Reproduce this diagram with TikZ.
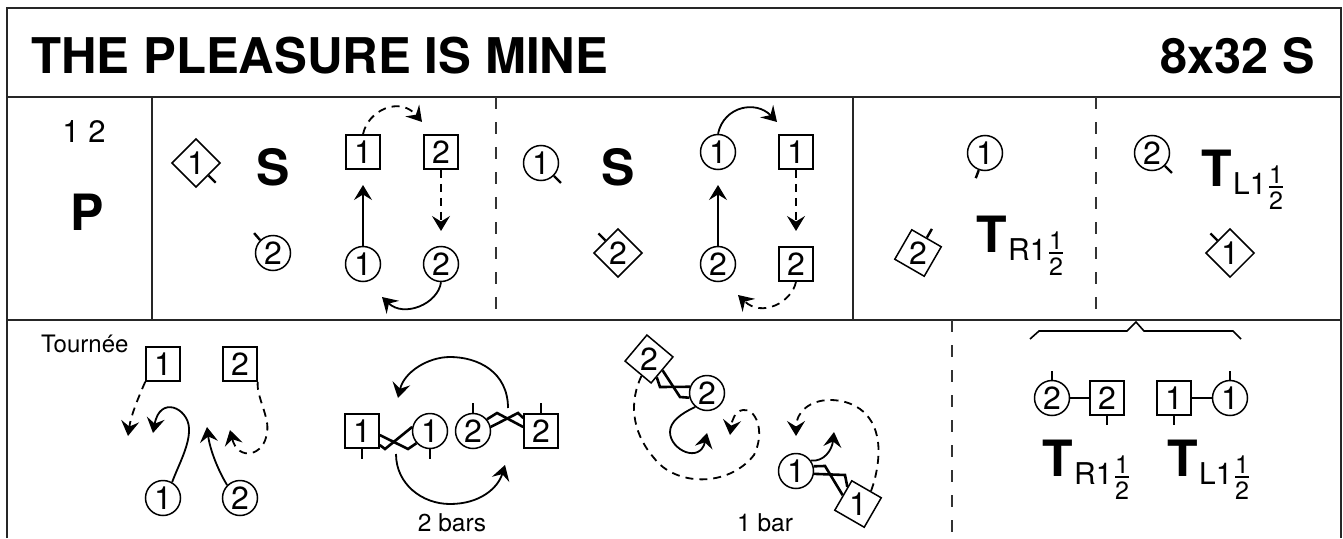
\documentclass[tikz,border=0pt]{standalone}
\usepackage{fontspec}
\usepackage{graphicx}
\setmainfont{TeX Gyre Heros}
\usetikzlibrary{arrows.meta}
\newcommand\fs[1]{\fontsize{#1}{#1}\selectfont}
\tikzset{
  x=1pt,y=-1pt,
  frameline/.style={line width=1.8pt,draw=black!85},
  divdash/.style={line width=1.8pt,draw=black!80,dash pattern=on 12pt off 13pt},
  dancer/.style={draw,line width=1.5pt,inner sep=0pt,font=\fs{32}},
  cn/.style={dancer,circle,minimum size=35pt},
  sq/.style={dancer,rectangle,minimum size=34pt},
  tick/.style={line width=2.4pt},
  arr/.style={line width=1.8pt,-{Stealth[length=15pt,width=18pt,inset=5.5pt]}},
  arrd/.style={arr,dash pattern=on 8pt off 6pt},
  hand/.style={line width=2.6pt,miter limit=4},
  big/.style={inner sep=0pt,anchor=base west,font=\fs{50}\bfseries},
  small/.style={inner sep=0pt,anchor=base,font=\fs{24.5}},
  subs/.style={inner sep=0pt,anchor=base west,font=\fs{30}},
  frac/.style={inner sep=0pt,anchor=base,font=\fs{25}},
}
% turn label: name, x of T, baseline, subscript, x offset of the fraction
\newcommand\turnlab[5]{%
  \node[big] (#1t) at (#2,#3) {T};
  \node[subs] (#1s) at (#2+32,#3+8) {#4};
  \node[frac] (#1n) at (#2+#5,#3-3) {1};
  \node[frac] (#1d) at (#2+#5,#3+23) {2};
  \draw[line width=1.5pt] (#1n.south)++(-7,4) coordinate (#1a) -- ++(14,0) coordinate (#1b);
}
\begin{document}
\begin{tikzpicture}
\useasboundingbox (0,0) rectangle (1343,538);
% frame
\draw[frameline] (7,538) -- (7,8) -- (1341,8) -- (1341,538);
\draw[frameline] (7,97) -- (1341,97);
\draw[frameline] (7,320) -- (1341,320);
\draw[frameline] (152,97) -- (152,320);
\draw[frameline] (853,97) -- (853,320);
\draw[divdash] (496,97) -- (496,320);
\draw[divdash] (1096,97) -- (1096,320);
\draw[divdash] (952,320) -- (952,538);
% title
\node[inner sep=0pt,anchor=base west,font=\fs{49.2}\bfseries] (title) at (31,73) {THE PLEASURE IS MINE};
\node[inner sep=0pt,anchor=base east,font=\fs{48.6}\bfseries] (form) at (1315,73) {8x32 S};
% left column
\node[inner sep=0pt,anchor=base,font=\fs{31}] (top) at (84,142) {1\hspace{9pt}2};
\node[big] (p) at (70,230) {P};
% panel 1
\node[sq,rotate=45] (a1) at (196,163) {\rotatebox[origin=c]{-45}{1}};
\draw[tick] (a1.south) -- ++(45:10);
\node[big,anchor=center] (s1) at (273,167) {S};
\node[cn] (a2) at (273,253) {2};
\draw[tick] (a2.135) -- ++(-6,-7);
\node[sq] (b1) at (363,152) {1};
\node[sq] (b2) at (441,152) {2};
\node[cn] (c1) at (363,264) {1};
\node[cn] (c2) at (441,264) {2};
\coordinate (e1) at (363,185);
\coordinate (e2) at (441,231);
\coordinate (e3) at (422,122);
\coordinate (e4) at (382,297);
\draw[arr] (c1.north) -- (e1);
\draw[arrd] (b2.south) -- (e2);
\draw[arrd] (b1.north) .. controls (368,110) and (400,96) .. (e3);
\draw[arr] (c2.south) .. controls (438,304) and (404,318) .. (e4);
% panel 2
\node[cn] (f1) at (541,163) {1};
\draw[tick] (f1.-45) -- ++(7,7);
\node[big,anchor=center] (s2) at (618,167) {S};
\node[sq,rotate=45] (f2) at (618,253) {\rotatebox[origin=c]{-45}{2}};
\draw[tick] (f2.north) -- ++(225:10);
\node[cn] (g1) at (718,152) {1};
\node[sq] (h1) at (796,152) {1};
\node[cn] (g2) at (718,264) {2};
\node[sq] (h2) at (796,264) {2};
\coordinate (e5) at (718,185);
\coordinate (e6) at (796,231);
\coordinate (e7) at (777,122);
\coordinate (e8) at (738,295);
\draw[arr] (g2.north) -- (e5);
\draw[arrd] (h1.south) -- (e6);
\draw[arr] (g1.north) .. controls (724,106) and (756,100) .. (e7);
\draw[arrd] (h2.south) .. controls (792,302) and (762,318) .. (e8);
% panel 3
\node[cn] (k1) at (985,153) {1};
\draw[tick] (k1.-110) -- ++(-3,8);
\node[sq,rotate=-30] (k2) at (918,253) {\rotatebox[origin=c]{30}{2}};
\draw[tick] (k2.north) -- ++(5,-8.7);
\turnlab{tr}{976}{252}{R1}{80}
% panel 4
\node[cn] (m1) at (1152,153) {2};
\draw[tick] (m1.-45) -- ++(7,7);
\turnlab{tl}{1201}{186}{L1}{75}
\node[sq,rotate=45] (m2) at (1230,253) {\rotatebox[origin=c]{-45}{1}};
\draw[tick] (m2.north) -- ++(225:10);
% tournee
\node[inner sep=0pt,anchor=base west,font=\fs{24}] (tn) at (41,352) {Tournée};
\node[sq] (n1) at (163,364) {1};
\node[sq] (n2) at (240,364) {2};
\node[cn] (o1) at (163,498) {1};
\node[cn] (o2) at (240,498) {2};
\coordinate (e9) at (128,436);
\coordinate (e10) at (153,433);
\coordinate (e11) at (207,427);
\coordinate (e12) at (230,430);
\draw[arrd] (n1.south west) .. controls (139,396) and (131,415) .. (e9);
\draw[arr] (o1.60) .. controls (178,466) and (190,445) .. (189,428) .. controls (188,408) and (160,395) .. (e10);
\draw[arr] (o2.north west) .. controls (218,470) and (210,450) .. (e11);
\draw[arrd] (n2.-45) .. controls (256,396) and (270,418) .. (267,432) .. controls (265,456) and (238,462) .. (e12);
% 2 bars
\node[sq] (p1) at (362,431) {1};
\node[cn] (q1) at (430,431) {1};
\node[cn] (q2) at (473,431) {2};
\node[sq] (p2) at (541,431) {2};
\draw[tick] (p1.south) -- ++(0,10);
\draw[tick] (q1.south) -- ++(0,10);
\draw[tick] (q2.north) -- ++(0,-10);
\draw[tick] (p2.north) -- ++(0,-10);
\draw[hand] (p1.east)++(0,4) -- (408,449) -- (q1.222);
\draw[hand] (p1.east)++(0,14) -- (385,449) -- (q1.167);
\draw[hand] (q2.40) -- (497,413) -- ([yshift=4pt]p2.west);
\draw[hand] (q2.13) -- (518,413) -- ([yshift=13pt]p2.west);
\coordinate (r1) at (508,408);
\coordinate (r2) at (398,398);
\coordinate (r3) at (396,454);
\coordinate (r4) at (505,465);
\draw[arr] (r1) .. controls (508,372) and (478,357) .. (450,357) .. controls (428,357) and (404,372) .. (r2);
\draw[arr] (r3) .. controls (396,484) and (422,504) .. (450,504) .. controls (480,504) and (498,488) .. (r4);
\node[small] (b2l) at (452,531) {2 bars};
% 1 bar
\node[sq,rotate=-40] (u2) at (649,359) {\rotatebox[origin=c]{40}{2}};
\node[cn] (v2) at (707,393) {2};
\draw[hand] (u2.east) -- (680,397) -- (v2.195);
\draw[hand] (u2.-27) -- (660,387) -- (v2.160);
\coordinate (w1) at (707,433);
\coordinate (w2) at (730,435);
\draw[arr] (v2.-130) .. controls (680,414) and (670,422) .. (670,432) .. controls (670,450) and (700,464) .. (w1);
\draw[arrd] (u2.-74) .. controls (630,400) and (630,430) .. (654,458) .. controls (675,486) and (728,488) .. (754,455) .. controls (766,430) and (755,408) .. (743,410) .. controls (735,411) and (732,420) .. (w2);
\node[cn] (v1) at (796,471) {1};
\node[sq,rotate=-30] (u1) at (858,504) {\rotatebox[origin=c]{30}{1}};
\draw[hand] (v1.15) -- (825,466) -- (u1.west);
\draw[hand] (v1.-9) -- (845,475) -- (u1.152);
\coordinate (w3) at (834,432);
\coordinate (w4) at (796,436);
\draw[arr] (v1.35) .. controls (824,462) and (832,450) .. (w3);
\draw[arrd] (u1.75) .. controls (876,478) and (880,458) .. (878,442) .. controls (874,410) and (850,400) .. (830,400) .. controls (810,400) and (796,412) .. (w4);
\node[small] (b1l) at (765,531) {1 bar};
% brace
\coordinate (br1) at (1030,339);
\coordinate (br2) at (1136,322);
\coordinate (br3) at (1241,339);
\draw[line width=1.6pt] (br1) -- (1039,331) -- (1127,331) -- (br2) -- (1144,331) -- (1233,331) -- (br3);
% holds
\node[cn] (x1) at (1052,398) {2};
\node[sq] (y1) at (1107,398) {2};
\node[sq] (y2) at (1174,398) {1};
\node[cn] (x2) at (1230,398) {1};
\draw[tick] (x1.north) -- ++(0,-9);
\draw[tick] (x2.north) -- ++(0,-9);
\draw[tick] (y1.south) -- ++(0,9);
\draw[tick] (y2.south) -- ++(0,9);
\draw[hand] (x1) -- (y1);
\draw[hand] (y2) -- (x2);
\turnlab{br}{1042}{476}{R1}{80}
\turnlab{bl}{1167}{476}{L1}{75}
\end{tikzpicture}
\end{document}
